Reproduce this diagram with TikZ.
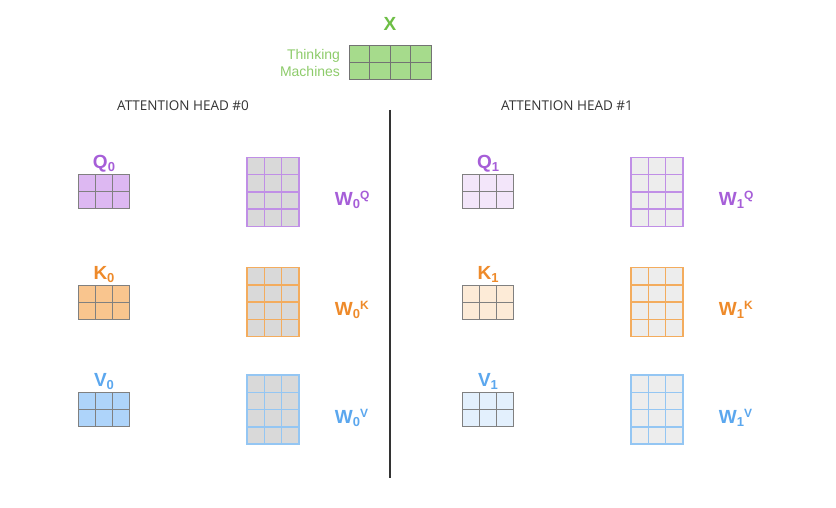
\documentclass[tikz,border=0pt]{standalone}
\usepackage{fontspec}
\setmainfont{Liberation Sans}
\newfontfamily\headfont{Open Sans}
\usetikzlibrary{positioning, calc}

\definecolor{xlab}{HTML}{6DBE45}
\definecolor{xfill}{HTML}{A6DB8C}
\definecolor{xtext}{HTML}{8DCB6A}
\definecolor{qlab}{HTML}{A65ED8}
\definecolor{qfill}{HTML}{DDB8F2}
\definecolor{qline}{HTML}{C08FE6}
\definecolor{klab}{HTML}{EE8A2A}
\definecolor{kfill}{HTML}{F9C58E}
\definecolor{kline}{HTML}{F3AC5E}
\definecolor{vlab}{HTML}{5BA7EE}
\definecolor{vfill}{HTML}{AED4FA}
\definecolor{vline}{HTML}{94C6F3}

\newcommand{\subidx}[1]{\raisebox{-0.3ex}{\fontsize{13}{13}\selectfont #1}}
\newcommand{\supidx}[1]{\raisebox{0.6ex}{\fontsize{12}{12}\selectfont #1}}

\tikzset{
  cells/.style n args={3}{path picture={
      \pgfmathtruncatemacro\nc{#1-1}
      \pgfmathtruncatemacro\nr{#2-1}
      \foreach \k in {1,...,\nc}
        \draw[#3] ($(path picture bounding box.north west)!\k/#1!(path picture bounding box.north east)$)
          -- ($(path picture bounding box.south west)!\k/#1!(path picture bounding box.south east)$);
      \foreach \k in {1,...,\nr}
        \draw[#3] ($(path picture bounding box.north west)!\k/#2!(path picture bounding box.south west)$)
          -- ($(path picture bounding box.north east)!\k/#2!(path picture bounding box.south east)$);
  }},
}

\begin{document}
\begin{tikzpicture}[
    x=1pt, y=-1pt,
    inmat/.style={draw=black!50, line width=1pt, inner sep=0pt,
                  minimum width=51pt, minimum height=34pt,
                  cells={3}{2}{black!50, line width=1pt}},
    wmat/.style={line width=1.5pt, inner sep=0pt,
                 minimum width=52pt, minimum height=69pt},
    lab/.style={font=\fontsize{19}{19}\bfseries\selectfont, inner sep=1pt},
    head/.style={font=\headfont\fontsize{13.5}{15}\selectfont, text=black!80},
    divider/.style={draw=black!80, line width=1.2pt}
  ]
  \useasboundingbox (0,0) rectangle (836,508);

  % input
  \node[draw=black!55, line width=1pt, fill=xfill, inner sep=0pt,
        minimum width=82pt, minimum height=34pt,
        cells={4}{2}{black!55, line width=1pt}] (xin) at (390,63) {};
  \node[lab, text=xlab, above=14pt of xin] (xlab) {X};
  \node[font=\fontsize{14}{17}\selectfont, text=xtext, align=right,
        left=5pt of xin] (words) {Thinking\\Machines};

  % two heads
  \foreach \h/\dx/\t/\g in {0/0/100/15, 1/384/35/7} {
    \node[head] (head\h) at (183+\dx,106) {ATTENTION HEAD \#\h};
    \foreach \m/\y/\col in {Q/192/q, K/302/k, V/409.5/v} {
      \node[inmat, fill=\col fill!\t] (\m\h) at (104+\dx,\y) {};
      \node[lab, text=\col lab, above=1pt of \m\h] (lab\m\h) {\m\subidx{\h}};
      \node[wmat, draw=\col line, fill=black!\g,
            cells={3}{4}{\col line, line width=1.5pt}] (W\m\h) at (273+\dx,\y) {};
      \node[lab, text=\col lab, right=34pt of W\m\h, yshift=-8pt] (labW\m\h) {W\subidx{\h}\supidx{\m}};
    }
  }

  \draw[divider] (390,110) -- (390,478);
\end{tikzpicture}
\end{document}
